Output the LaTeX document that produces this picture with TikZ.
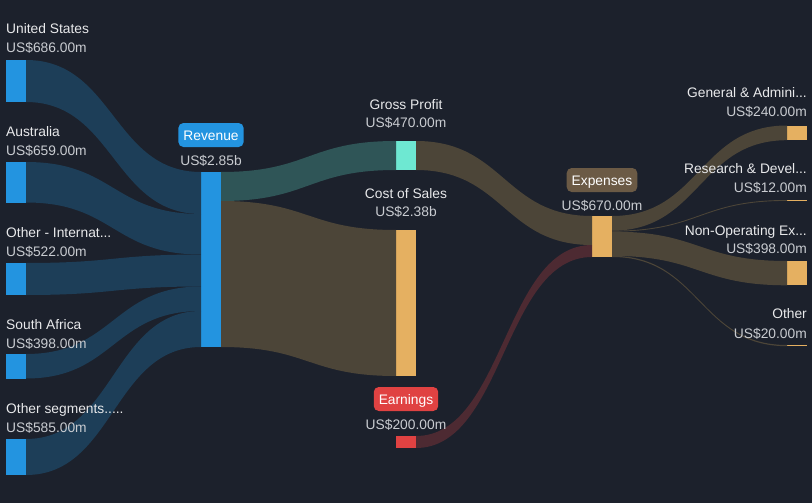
\documentclass[tikz,border=0pt]{standalone}
\usepackage{fontspec}
\setmainfont{Liberation Sans}
\usetikzlibrary{calc}
\definecolor{bg}{HTML}{1C212C}
\definecolor{bluebar}{HTML}{2394E0}
\definecolor{blueflow}{HTML}{1D3E58}
\definecolor{tealbar}{HTML}{6EE8D2}
\definecolor{tealflow}{HTML}{2F5557}
\definecolor{brownflow}{HTML}{4C4538}
\definecolor{orangebar}{HTML}{E5B061}
\definecolor{redbar}{HTML}{E04242}
\definecolor{redflow}{HTML}{4D2A32}
\definecolor{exppill}{HTML}{6B5A45}
\definecolor{lbltext}{HTML}{E8E9EB}
\definecolor{valtext}{HTML}{C9CCD1}
\newcommand{\sflow}[6]{%
  \fill[#1] ($(#2.north east)+(0,-#3pt)$) .. controls +(88pt,0) and +(-88pt,0) ..
    ($(#4.north west)+(0,-#5pt)$) -- ($(#4.north west)+(0,-#5pt-#6pt)$)
    .. controls +(-88pt,0) and +(88pt,0) .. ($(#2.north east)+(0,-#3pt-#6pt)$) -- cycle;}
\tikzset{
  bar/.style={anchor=north west, minimum width=20pt, inner sep=0pt, outer sep=0pt, draw=none},
  txt/.style={font=\fontsize{13.8}{16}\selectfont, inner sep=0pt},
  lbl/.style={txt, text=lbltext},
  val/.style={txt, text=valtext},
  pill/.style={txt, text=white, rounded corners=5pt, minimum height=24pt, inner xsep=5pt, text height=10pt, text depth=0pt, anchor=center}
}
\begin{document}
\begin{tikzpicture}[x=1pt,y=-1pt]
\fill[bg] (0,0) rectangle (812,503);
\useasboundingbox (0,0) rectangle (812,503);
% bars
\node[bar, fill=bluebar, minimum height=42pt] (us) at (6,60) {};
\node[bar, fill=bluebar, minimum height=40.5pt] (au) at (6,162) {};
\node[bar, fill=bluebar, minimum height=32pt] (oi) at (6,263) {};
\node[bar, fill=bluebar, minimum height=24.5pt] (sa) at (6,354) {};
\node[bar, fill=bluebar, minimum height=36pt] (os) at (6,439) {};
\node[bar, fill=bluebar, minimum height=175pt] (rev) at (201,172) {};
\node[bar, fill=tealbar, minimum height=29pt] (gp) at (396,141) {};
\node[bar, fill=orangebar, minimum height=146pt] (cos) at (396,230) {};
\node[bar, fill=redbar, minimum height=12pt] (earn) at (396,436) {};
\node[bar, fill=orangebar, minimum height=41pt] (exp) at (592,216) {};
\node[bar, fill=orangebar, minimum height=14.7pt] (ga) at (787,125.5) {};
\node[bar, fill=orangebar, minimum height=0.9pt] (rd) at (787,200) {};
\node[bar, fill=orangebar, minimum height=24.3pt] (nop) at (787,261) {};
\node[bar, fill=orangebar, minimum height=1.2pt] (oth) at (787,345) {};
% flows
\sflow{blueflow}{us}{0}{rev}{0}{42}
\sflow{blueflow}{au}{0}{rev}{42}{40.5}
\sflow{blueflow}{oi}{0}{rev}{82.5}{32}
\sflow{blueflow}{sa}{0}{rev}{114.5}{24.5}
\sflow{blueflow}{os}{0}{rev}{139}{36}
\sflow{tealflow}{rev}{0}{gp}{0}{29}
\sflow{brownflow}{rev}{29}{cos}{0}{146}
\sflow{brownflow}{gp}{0}{exp}{0}{29}
\sflow{redflow}{earn}{0}{exp}{29}{12}
\sflow{brownflow}{exp}{0}{ga}{0}{14.7}
\sflow{brownflow}{exp}{14.7}{rd}{0}{0.9}
\sflow{brownflow}{exp}{15.6}{nop}{0}{24.3}
\sflow{brownflow}{exp}{39.8}{oth}{0}{1.2}
% left labels
\node[lbl, anchor=base west] (usl) at (6,34) {United States};
\node[val, anchor=base west] (usv) at (6,53) {US\$686.00m};
\node[lbl, anchor=base west] (aul) at (6,136) {Australia};
\node[val, anchor=base west] (auv) at (6,155) {US\$659.00m};
\node[lbl, anchor=base west] (oil) at (6,237) {Other - Internat...};
\node[val, anchor=base west] (oiv) at (6,256) {US\$522.00m};
\node[lbl, anchor=base west] (sal) at (6,329) {South Africa};
\node[val, anchor=base west] (sav) at (6,348) {US\$398.00m};
\node[lbl, anchor=base west] (osl) at (6,413) {Other segments.....};
\node[val, anchor=base west] (osv) at (6,432) {US\$585.00m};
% middle labels
\node[pill, fill=bluebar] (revl) at (211,135) {Revenue};
\node[val, anchor=base] (revv) at (211,165) {US\$2.85b};
\node[lbl, anchor=base] (gpl) at (406,110) {Gross Profit};
\node[val, anchor=base] (gpv) at (406,128) {US\$470.00m};
\node[lbl, anchor=base] (cosl) at (406,198) {Cost of Sales};
\node[val, anchor=base] (cosv) at (406,216) {US\$2.38b};
\node[pill, fill=redbar] (earnl) at (406,399) {Earnings};
\node[val, anchor=base] (earnv) at (406,429) {US\$200.00m};
\node[pill, fill=exppill] (expl) at (602,180) {Expenses};
\node[val, anchor=base] (expv) at (602,210) {US\$670.00m};
% right labels
\node[lbl, anchor=base east] (gal) at (807,98) {General \& Admini...};
\node[val, anchor=base east] (gav) at (807,117) {US\$240.00m};
\node[lbl, anchor=base east] (rdl) at (807,173) {Research \& Devel...};
\node[val, anchor=base east] (rdv) at (807,192) {US\$12.00m};
\node[lbl, anchor=base east] (nopl) at (807,235) {Non-Operating Ex...};
\node[val, anchor=base east] (nopv) at (807,253) {US\$398.00m};
\node[lbl, anchor=base east] (othl) at (807,318) {Other};
\node[val, anchor=base east] (othv) at (807,338) {US\$20.00m};
\end{tikzpicture}
\end{document}
